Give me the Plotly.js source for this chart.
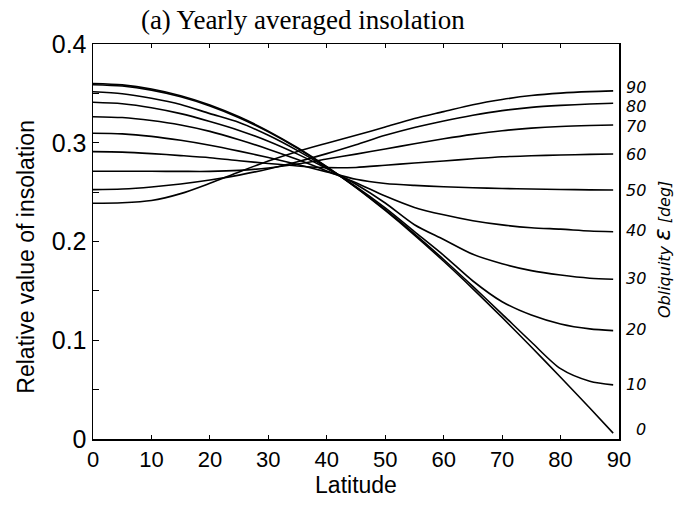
<!DOCTYPE html>
<html>
<head>
<meta charset="utf-8">
<script src="https://cdn.plot.ly/plotly-3.0.1.min.js"></script>
<style>html,body{margin:0;padding:0;background:#fff;}#chart{width:676px;height:507px;}</style>
</head>
<body>
<div id="chart"></div>
<script>
// Latitude (deg)
const latitude = [0,5,10,15,20,25,30,35,40,45,50,55,60,65,70,75,80,85,89];
// Obliquity values (deg)
const obliquity = [0,10,20,30,40,50,60,70,80,90];
// Relative yearly averaged insolation, one array per obliquity
const ins0  = [0.360,0.3586,0.3545,0.3477,0.3383,0.3263,0.3118,0.2949,0.2758,0.2546,0.2314,0.2065,0.1800,0.1521,0.1231,0.0932,0.0625,0.0314,0.0060];
const ins10 = [0.3588,0.3574,0.3533,0.3466,0.3373,0.3254,0.3110,0.2943,0.2754,0.2548,0.2322,0.2078,0.1818,0.1545,0.1265,0.0982,0.0712,0.0585,0.0548];
const ins20 = [0.3517,0.3497,0.3450,0.3387,0.3295,0.3205,0.3075,0.2920,0.2745,0.2555,0.2340,0.2100,0.1860,0.1600,0.1390,0.1255,0.1165,0.1115,0.1097];
const ins30 = [0.3410,0.3395,0.3355,0.3295,0.3215,0.3125,0.3015,0.2885,0.2740,0.2580,0.2390,0.2170,0.2020,0.1870,0.1775,0.1705,0.1660,0.1628,0.1617];
const ins40 = [0.3264,0.3255,0.3225,0.3180,0.3115,0.3030,0.2935,0.2830,0.2715,0.2595,0.2460,0.2345,0.2270,0.2210,0.2168,0.2140,0.2125,0.2107,0.2099];
const ins50 = [0.3096,0.3090,0.3065,0.3025,0.2975,0.2915,0.2850,0.2780,0.2705,0.2630,0.2588,0.2568,0.2555,0.2545,0.2537,0.2531,0.2527,0.2523,0.2522];
const ins60 = [0.2910,0.2905,0.2890,0.2870,0.2848,0.2818,0.2790,0.2765,0.2748,0.2750,0.2772,0.2795,0.2815,0.2838,0.2858,0.2868,0.2876,0.2882,0.2886];
const ins70 = [0.2712,0.2712,0.2711,0.2710,0.2710,0.2720,0.2745,0.2785,0.2835,0.2885,0.2937,0.2990,0.3040,0.3085,0.3122,0.3148,0.3165,0.3175,0.3180];
const ins80 = [0.2525,0.2532,0.2552,0.2582,0.2622,0.2672,0.2735,0.2808,0.2890,0.2980,0.3075,0.3155,0.3220,0.3278,0.3325,0.3358,0.3378,0.3392,0.3400];
const ins90 = [0.2387,0.2392,0.2415,0.2485,0.2590,0.2705,0.2815,0.2912,0.2995,0.3075,0.3160,0.3245,0.3315,0.3385,0.3438,0.3478,0.3503,0.3518,0.3525];
const series = [ins0, ins10, ins20, ins30, ins40, ins50, ins60, ins70, ins80, ins90];
// End-label texts
const obliquityLabels = ['0','10','20','30','40','50','60','70','80','90'];

// label nudges (px, positive = up) to keep end labels legible
const labelShift = [4,0,1,1,1,-1,0,-2,-3,3];

const traces = series.map((ys, i) => ({
  x: latitude, y: ys, type: 'scatter', mode: 'lines',
  name: 'ε = ' + obliquity[i] + '°',
  line: {color: '#000', width: 1.6, shape: 'spline', smoothing: 0.8},
  hoverinfo: 'x+y+name', showlegend: false
}));

const annotations = series.map((ys, i) => ({
  x: 90, y: ys[ys.length - 1], xref: 'x', yref: 'y',
  text: obliquityLabels[i], showarrow: false,
  xanchor: 'right', yanchor: 'middle', xshift: 29, yshift: labelShift[i],
  font: {family: 'DejaVu Sans', size: 16, color: '#000', style: 'italic'}
}));
annotations.push({
  x: 1.083, y: 0.48, xref: 'paper', yref: 'paper',
  text: 'Obliquity <span style="font-size:23px">ε</span> [deg]',
  textangle: -90, showarrow: false, xanchor: 'center', yanchor: 'middle',
  font: {family: 'DejaVu Sans', size: 16, color: '#000', style: 'italic'}
});
annotations.push({
  x: -0.129, y: 0.462, xref: 'paper', yref: 'paper',
  text: 'Relative value of insolation',
  textangle: -90, showarrow: false, xanchor: 'center', yanchor: 'middle',
  font: {family: 'Liberation Sans', size: 23, color: '#000'}
});

const layout = {
  width: 676, height: 507,
  margin: {l: 93, r: 57, t: 44, b: 68},
  paper_bgcolor: '#fff', plot_bgcolor: '#fff',
  title: {
    text: '(a) Yearly averaged insolation',
    font: {family: 'Liberation Serif', size: 27, color: '#000'},
    x: 0.448, xref: 'container', xanchor: 'center',
    y: 0.962, yref: 'container', yanchor: 'middle'
  },
  xaxis: {
    range: [0, 90], dtick: 10, tick0: 0,
    showline: true, linecolor: '#000', linewidth: 1.5, mirror: 'ticks',
    ticks: 'inside', ticklen: 4, tickwidth: 1, tickcolor: '#000',
    showgrid: false, zeroline: false,
    tickfont: {family: 'Liberation Sans', size: 22, color: '#000'},
    title: {text: 'Latitude', font: {family: 'Liberation Sans', size: 23, color: '#000'}, standoff: 2}
  },
  yaxis: {
    range: [0, 0.4], dtick: 0.1, tick0: 0,
    showline: true, linecolor: '#000', linewidth: 1.5, mirror: true,
    ticks: 'inside', ticklen: 6, tickwidth: 1, tickcolor: '#000',
    minor: {dtick: 0.05, ticks: 'inside', ticklen: 6, tickwidth: 1, tickcolor: '#000', showgrid: false},
    showgrid: false, zeroline: false,
    tickfont: {family: 'Liberation Sans', size: 25, color: '#000'},
    title: {text: ''}
  },
  annotations: annotations
};

Plotly.newPlot('chart', traces, layout, {displayModeBar: false, staticPlot: true});
</script>
</body>
</html>
